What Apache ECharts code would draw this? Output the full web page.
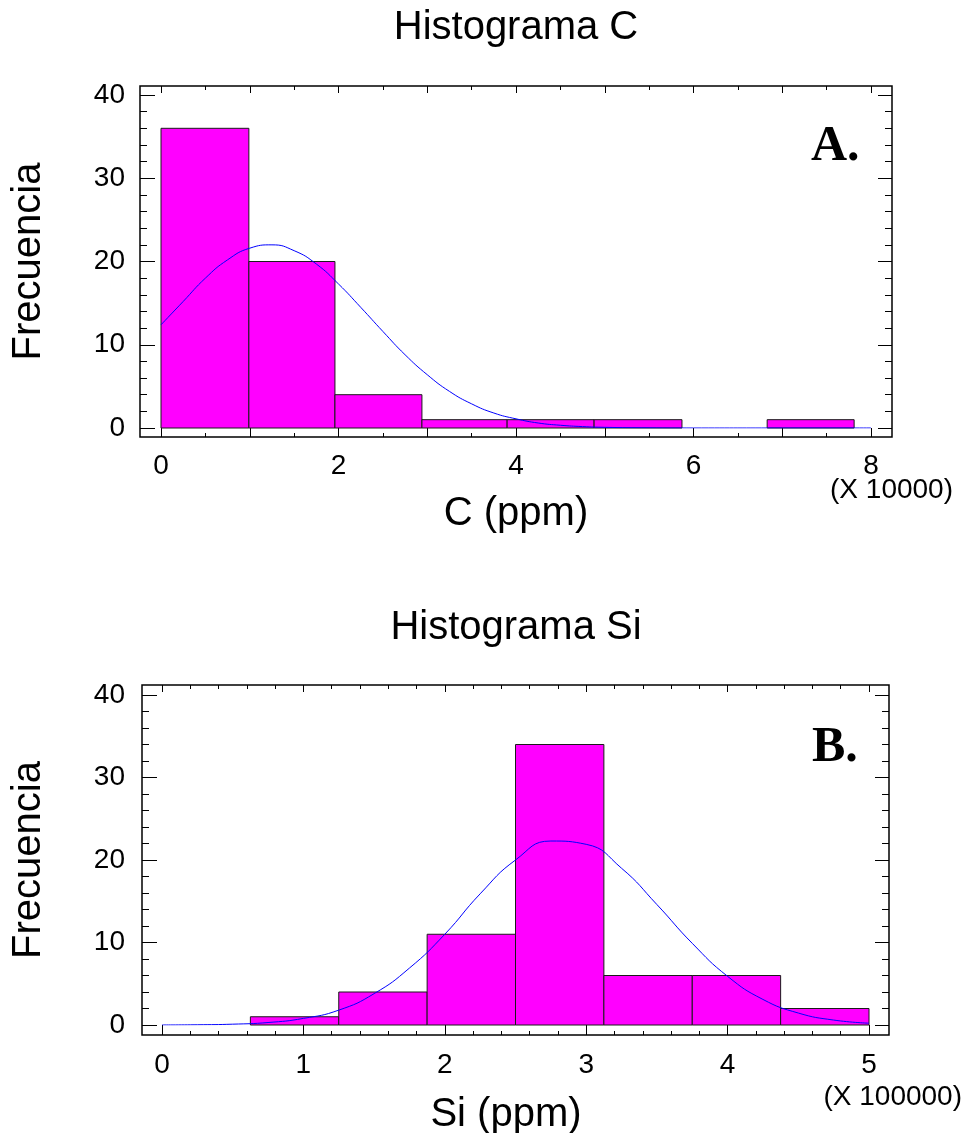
<!DOCTYPE html>
<html>
<head>
<meta charset="utf-8">
<script src="https://cdn.jsdelivr.net/npm/echarts@6/dist/echarts.min.js"></script>
<style>
html,body{margin:0;padding:0;background:#fff;}
#chart{width:964px;height:1133px;}
</style>
</head>
<body>
<div id="chart"></div>
<script>
// ---- Data: Histograma C (x in units of 10000 ppm) ----
var binEdgesC = [0, 0.99, 1.96, 2.94, 3.90, 4.88, 5.87, 6.83, 7.81];
var countsC = [36, 20, 4, 1, 1, 1, 0, 1];
var curveXC = [0, 0.25, 0.5, 0.75, 1, 1.25, 1.5, 1.75, 2, 2.25, 2.5, 2.75, 3, 3.25, 3.5, 3.75, 4, 4.25, 4.5, 4.75, 5, 5.5, 6, 7, 8];
var curveYC = [12.4, 15.2, 18.0, 20.2, 21.6, 22.0, 21.3, 19.7, 17.3, 14.5, 11.6, 8.8, 6.4, 4.4, 2.9, 1.8, 1.1, 0.6, 0.33, 0.17, 0.08, 0.02, 0, 0, 0];

// ---- Data: Histograma Si (x in units of 100000 ppm) ----
var binEdgesSi = [0, 0.625, 1.25, 1.875, 2.5, 3.125, 3.75, 4.375, 5];
var countsSi = [0, 1, 4, 11, 34, 6, 6, 2];
var curveXSi = [0, 0.25, 0.5, 0.75, 1, 1.25, 1.5, 1.75, 2, 2.25, 2.5, 2.75, 3, 3.25, 3.5, 3.75, 4, 4.25, 4.5, 4.75, 5];
var curveYSi = [0, 0.03, 0.1, 0.3, 0.8, 1.8, 3.8, 6.9, 11.0, 15.9, 20.0, 22.3, 21.9, 19.0, 14.6, 9.9, 5.9, 3.1, 1.45, 0.6, 0.22];

// ---- Text ----
var titleC = 'Histograma C';
var titleSi = 'Histograma Si';
var yName = 'Frecuencia';
var xNameC = 'C (ppm)';
var xNameSi = 'Si (ppm)';
var scaleC = '(X 10000)';
var scaleSi = '(X 100000)';
var panelC = 'A.';
var panelSi = 'B.';

var FONT = 'Liberation Sans, Arial, sans-serif';
var SERIF = 'Liberation Serif, Times New Roman, serif';

function bins(edges, counts) {
  var out = [];
  for (var i = 0; i < counts.length; i++) out.push([edges[i], edges[i + 1], counts[i]]);
  return out;
}
function pts(xs, ys) {
  var out = [];
  for (var i = 0; i < xs.length; i++) out.push([xs[i], ys[i]]);
  return out;
}
function renderBar(params, api) {
  var c = api.value(2);
  if (!c) return null;
  var p0 = api.coord([api.value(0), 0]);
  var p1 = api.coord([api.value(1), c]);
  return {
    type: 'rect',
    shape: { x: p0[0], y: p1[1], width: p1[0] - p0[0], height: p0[1] - p1[1] },
    style: { fill: '#FF00FF', stroke: '#1a1a1a', lineWidth: 1 }
  };
}

function xAxisMain(gi, max, offset, margin, name, nameGap, labelFn, minorSplit, namePad) {
  return {
    type: 'value', gridIndex: gi, position: 'bottom', offset: offset,
    min: 0, max: max, interval: 1,
    axisLine: { show: false, onZero: false },
    splitLine: { show: false },
    axisTick: { show: true, inside: true, length: offset, lineStyle: { color: '#000', width: 1 } },
    minorTick: { show: true, splitNumber: minorSplit, length: 4, lineStyle: { color: '#000', width: 1 } },
    axisLabel: { show: true, margin: margin, color: '#000', fontSize: 28, fontFamily: FONT, formatter: labelFn },
    name: name, nameLocation: 'middle', nameGap: nameGap,
    nameTextStyle: { color: '#000', fontSize: 40, fontFamily: FONT, padding: namePad }
  };
}
function xAxisTop(gi, max, offset, minorSplit) {
  return {
    type: 'value', gridIndex: gi, position: 'top', offset: offset,
    min: 0, max: max, interval: 1,
    axisLine: { show: false, onZero: false }, splitLine: { show: false },
    axisTick: { show: true, inside: true, length: 7, lineStyle: { color: '#000', width: 1 } },
    minorTick: { show: true, splitNumber: minorSplit, length: 4, lineStyle: { color: '#000', width: 1 } },
    axisLabel: { show: false }
  };
}
function yAxisLeft(gi, offset, margin, nameGap) {
  return {
    type: 'value', gridIndex: gi, position: 'left', offset: offset,
    min: 0, max: 40, interval: 10,
    axisLine: { show: false, onZero: false }, splitLine: { show: false },
    axisTick: { show: true, inside: true, length: 15, lineStyle: { color: '#000', width: 1 } },
    minorTick: { show: true, splitNumber: 5, length: 7, lineStyle: { color: '#000', width: 1 } },
    axisLabel: { show: true, margin: margin, color: '#000', fontSize: 28, fontFamily: FONT },
    name: yName, nameLocation: 'middle', nameGap: nameGap, nameRotate: 90,
    nameTextStyle: { color: '#000', fontSize: 40, fontFamily: FONT }
  };
}
function yAxisRight(gi, offset) {
  return {
    type: 'value', gridIndex: gi, position: 'right', offset: offset,
    min: 0, max: 40, interval: 10,
    axisLine: { show: false, onZero: false }, splitLine: { show: false },
    axisTick: { show: true, inside: true, length: 14, lineStyle: { color: '#000', width: 1 } },
    minorTick: { show: true, splitNumber: 5, length: 7, lineStyle: { color: '#000', width: 1 } },
    axisLabel: { show: false }
  };
}

var chart = echarts.init(document.getElementById('chart'), null, { renderer: 'canvas' });
var option = {
  backgroundColor: '#fff',
  animation: false,
  title: [
    { text: titleC, left: 516, top: 8, textAlign: 'center', padding: 0,
      textStyle: { fontSize: 40, fontWeight: 'normal', color: '#000', fontFamily: FONT } },
    { text: titleSi, left: 516, top: 608, textAlign: 'center', padding: 0,
      textStyle: { fontSize: 40, fontWeight: 'normal', color: '#000', fontFamily: FONT } },
    { text: panelC, left: 811, top: 122, padding: 0,
      textStyle: { fontSize: 50, fontWeight: 'bold', color: '#000', fontFamily: SERIF } },
    { text: panelSi, left: 812, top: 723, padding: 0,
      textStyle: { fontSize: 50, fontWeight: 'bold', color: '#000', fontFamily: SERIF } },
    { text: scaleC, right: 11, top: 476, padding: 0,
      textStyle: { fontSize: 28, fontWeight: 'normal', color: '#000', fontFamily: FONT } },
    { text: scaleSi, right: 2, top: 1083, padding: 0,
      textStyle: { fontSize: 28, fontWeight: 'normal', color: '#000', fontFamily: FONT } }
  ],
  grid: [
    { left: 161, top: 95, width: 710, height: 333, outerBoundsMode: 'none', containLabel: false },
    { left: 162, top: 695, width: 707, height: 330, outerBoundsMode: 'none', containLabel: false },
    { left: 140, top: 86, width: 752, height: 351, show: true, borderColor: '#000', borderWidth: 1.5, backgroundColor: 'transparent', outerBoundsMode: 'none', containLabel: false },
    { left: 142, top: 685, width: 747, height: 350, show: true, borderColor: '#000', borderWidth: 1.5, backgroundColor: 'transparent', outerBoundsMode: 'none', containLabel: false }
  ],
  xAxis: [
    xAxisMain(0, 8, 9, 15, xNameC, 57, function (v) { return (Math.round(v) % 2 === 0) ? String(Math.round(v)) : ''; }, 2, [0, 0, 0, 0]),
    xAxisTop(0, 8, 9, 2),
    xAxisMain(1, 5, 10, 16, xNameSi, 60, function (v) { return String(Math.round(v)); }, 5, [0, 19, 0, 0]),
    xAxisTop(1, 5, 10, 5)
  ],
  yAxis: [
    yAxisLeft(0, 21, 15, 91),
    yAxisRight(0, 21),
    yAxisLeft(1, 20, 17, 93),
    yAxisRight(1, 20)
  ],
  series: [
    { type: 'custom', xAxisIndex: 0, yAxisIndex: 0, renderItem: renderBar,
      encode: { x: [0, 1], y: 2 }, data: bins(binEdgesC, countsC), z: 2 },
    { type: 'line', xAxisIndex: 0, yAxisIndex: 0, data: pts(curveXC, curveYC),
      smooth: true, symbol: 'none', lineStyle: { color: '#0000FF', width: 1 }, z: 3 },
    { type: 'custom', xAxisIndex: 2, yAxisIndex: 2, renderItem: renderBar,
      encode: { x: [0, 1], y: 2 }, data: bins(binEdgesSi, countsSi), z: 2 },
    { type: 'line', xAxisIndex: 2, yAxisIndex: 2, data: pts(curveXSi, curveYSi),
      smooth: true, symbol: 'none', lineStyle: { color: '#0000FF', width: 1 }, z: 3 }
  ]
};
chart.setOption(option);
</script>
</body>
</html>
